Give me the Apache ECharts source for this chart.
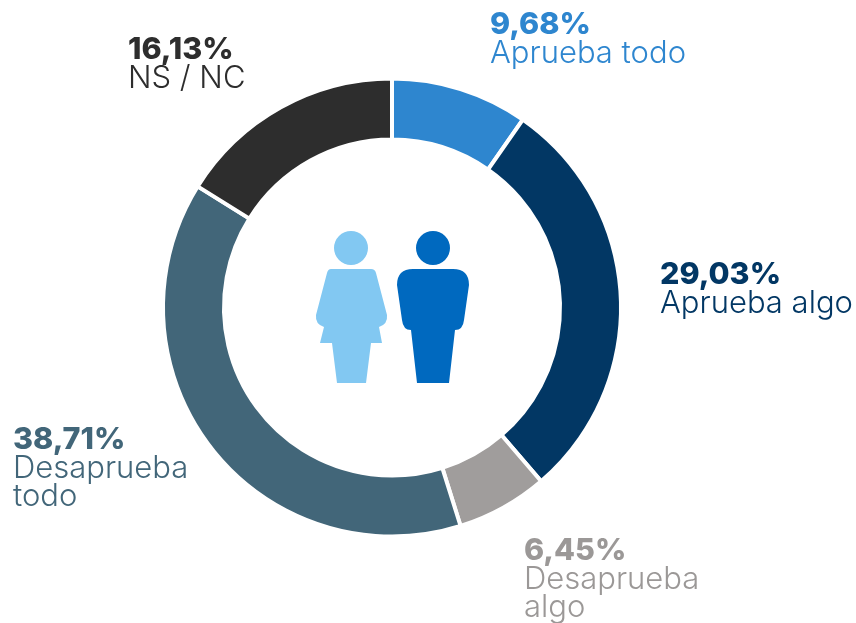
<!DOCTYPE html>
<html>
<head>
<meta charset="utf-8">
<style>
html, body { margin: 0; padding: 0; background: #fff; }
#chart { width: 856px; height: 623px; }
</style>
<script src="https://cdn.jsdelivr.net/npm/echarts@6/dist/echarts.min.js"></script>
</head>
<body>
<div id="chart"></div>
<script>
const categories = ['Aprueba todo', 'Aprueba algo', 'Desaprueba algo', 'Desaprueba todo', 'NS / NC'];
const values = [9.68, 29.03, 6.45, 38.71, 16.13];
const colors = ['#2E86CF', '#023764', '#A09D9C', '#426679', '#2D2D2D'];
const titles = ['9,68%', '29,03%', '6,45%', '38,71%', '16,13%'];
const titleColors = ['#2E86CF', '#023764', '#9B9897', '#426679', '#2D2D2D'];
const names = ['Aprueba todo', 'Aprueba algo', 'Desaprueba\nalgo', 'Desaprueba\ntodo', 'NS / NC'];
const labelPos = [[490, 9], [660, 259], [524, 535], [13, 424], [128, 34]];

const font = 'Inter, "Open Sans", sans-serif';
const chart = echarts.init(document.getElementById('chart'));

// siluetas del centro
const womanPath = 'M351 231a17 17 0 1 1 0 34a17 17 0 0 1 0-34z' +
  'M331 269h40q4 0 5 4l11 42q1 9-8 12l3 16h-11l-5 40h-29l-5-40h-12l4-16q-9-3-8-12l11-42q1-4 4-4z';
const manPath = 'M433 231a17 17 0 1 1 0 34a17 17 0 0 1 0-34z' +
  'M413 269h40q16 0 16 16l-5 35q-1 10-9 10l-6 53h-32l-6-53q-8 0-9-10l-5-35q0-16 16-16z';

chart.setOption({
  animation: false,
  series: [{
    type: 'pie',
    center: [392, 307.5],
    radius: [168, 229],
    startAngle: 90,
    clockwise: true,
    silent: true,
    label: { show: false },
    itemStyle: { borderColor: '#fff', borderWidth: 4 },
    data: categories.map((name, i) => ({
      name,
      value: values[i],
      itemStyle: { color: colors[i] }
    }))
  }, {
    type: 'custom',
    coordinateSystem: 'none',
    silent: true,
    data: [0],
    renderItem: () => ({
      type: 'group',
      children: [
        { type: 'path', shape: { pathData: womanPath }, style: { fill: '#82C8F2' } },
        { type: 'path', shape: { pathData: manPath }, style: { fill: '#0069BF' } }
      ]
    })
  }],
  graphic: categories.map((c, i) => ({
    type: 'text',
    left: labelPos[i][0],
    top: labelPos[i][1],
    style: {
      text: '{a|' + titles[i] + '}\n{b|' + names[i].split('\n').join('}\n{b|') + '}',
      rich: {
        a: { fontFamily: font, fontSize: 30.5, fontWeight: 800, fill: titleColors[i], lineHeight: 30 },
        b: { fontFamily: font, fontSize: 31, fontWeight: 300, fill: titleColors[i], lineHeight: 28 }
      }
    }
  }))
});
</script>
</body>
</html>
